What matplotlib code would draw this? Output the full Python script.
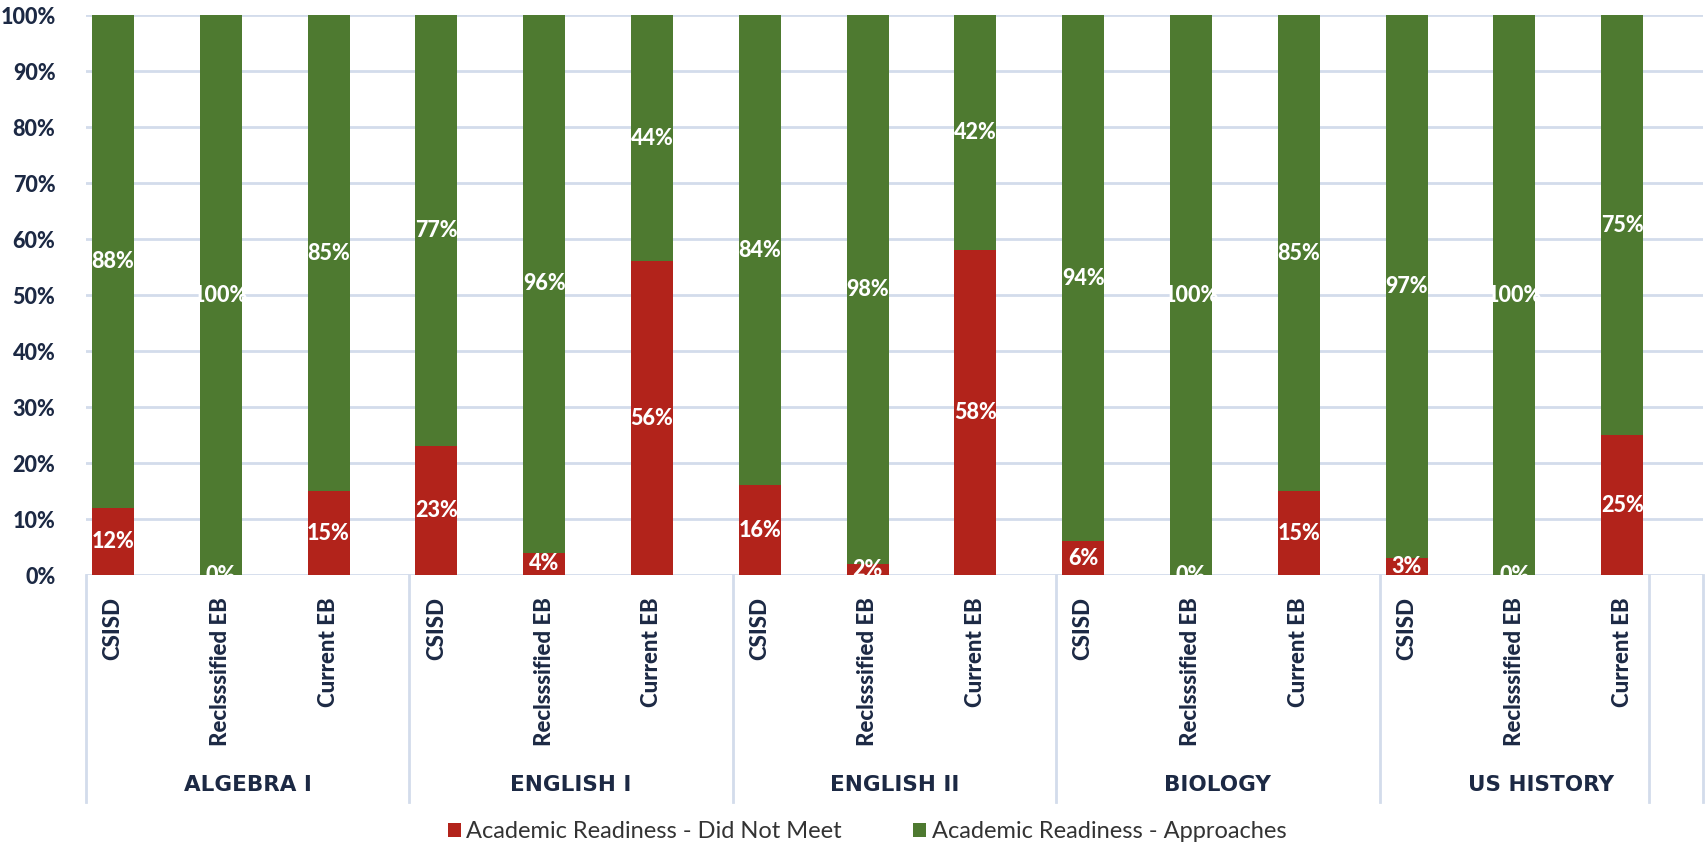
import matplotlib
matplotlib.use("Agg")
import matplotlib.pyplot as plt
from matplotlib.patches import Rectangle
import numpy as np

groups = ["ALGEBRA I", "ENGLISH I", "ENGLISH II", "BIOLOGY", "US HISTORY"]
subcats = ["CSISD", "Reclsssified EB", "Current EB"]
did_not_meet = [12, 0, 15, 23, 4, 56, 16, 2, 58, 6, 0, 15, 3, 0, 25]
approaches = [88, 100, 85, 77, 96, 44, 84, 98, 42, 94, 100, 85, 97, 100, 75]
series_names = ["Academic Readiness - Did Not Meet", "Academic Readiness - Approaches"]

RED = "#B2231B"
GREEN = "#4E7A30"
NAVY = "#1C2944"
GRID = "#D3DCEB"

fig = plt.figure(figsize=(17.08, 8.48), dpi=100)
ax = fig.add_axes([86/1708, 1 - 575/848, 1617/1708, 560/848])

n = len(did_not_meet)
x = np.arange(n) + 0.25
w = 0.39
ax.bar(x, did_not_meet, w, color=RED, zorder=3, label=series_names[0])
ax.bar(x, approaches, w, bottom=did_not_meet, color=GREEN, zorder=3, label=series_names[1])

# value labels, clipped to the bar column like the original
for i in range(n):
    clip = Rectangle((x[i] - w/2, 0), w, 100, transform=ax.transData)
    for val, mid in [(did_not_meet[i], did_not_meet[i] / 2),
                     (approaches[i], did_not_meet[i] + approaches[i] / 2)]:
        t = ax.text(x[i], mid, "%d%%" % val, ha="center", va="center",
                    color="white", fontsize=15.5, fontweight="black",
                    family="Lato", zorder=4)
        t.set_clip_path(clip)

ax.set_xlim(0, 15)
ax.set_ylim(0, 100)
ax.set_yticks(range(0, 101, 10))
ax.set_yticklabels(["%d%%" % v for v in range(0, 101, 10)])
for lab in ax.get_yticklabels():
    lab.set_fontsize(15.5)
    lab.set_fontweight("black")
    lab.set_family("Lato")
    lab.set_color(NAVY)
ax.tick_params(axis="y", length=0, pad=22)

ax.set_xticks(x)
ax.set_xticklabels(subcats * len(groups), rotation=90, va="top")
for lab in ax.get_xticklabels():
    lab.set_fontsize(16)
    lab.set_fontweight("black")
    lab.set_family("Lato")
    lab.set_color(NAVY)
ax.tick_params(axis="x", length=0, pad=16)

for s in ax.spines.values():
    s.set_visible(False)
for v in range(10, 101, 10):
    ax.axhline(v, color=GRID, lw=2, zorder=1)
ax.axhline(0, color=GRID, lw=2, zorder=1)

# group separators and group labels
trans = ax.get_xaxis_transform()
for sx in [0, 3, 6, 9, 12, 14.5, 15]:
    ax.plot([sx, sx], [0, -0.405], color=GRID, lw=2, transform=trans, clip_on=False)
for g, name in enumerate(groups):
    ax.text(g * 3 + 1.5, -0.375, name, transform=trans, ha="center", va="center",
            fontsize=15.5, fontweight="bold", family="Liberation Sans Narrow", color=NAVY)

fig.legend(loc="center", bbox_to_anchor=(867/1708, 1 - 832/848), ncol=2, frameon=False,
           prop={"family": "Lato", "size": 17}, handlelength=0.55, handleheight=0.55,
           handletextpad=0.25, columnspacing=3.0, labelcolor="#333333")

fig.savefig("out.png", dpi=100)
